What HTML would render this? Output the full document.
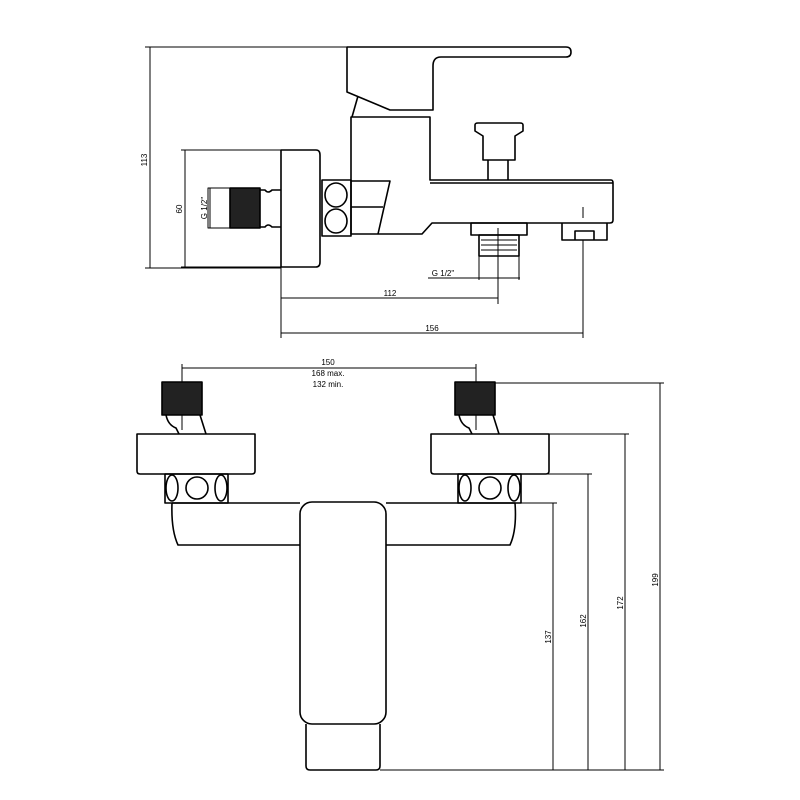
<!DOCTYPE html>
<html><head><meta charset="utf-8"><style>html,body{margin:0;padding:0;background:#fff}svg{display:block}</style></head><body>
<svg width="800" height="800" viewBox="0 0 800 800" xmlns="http://www.w3.org/2000/svg" font-family="Liberation Sans, sans-serif">
<g fill="none" stroke="#000" stroke-width="1.6" stroke-linejoin="round">
<!-- TOP VIEW -->
<!-- 113 dim -->
<line x1="150" y1="47" x2="150" y2="268" stroke-width="1"/>
<line x1="145" y1="47" x2="347" y2="47" stroke-width="1"/>
<line x1="145" y1="268" x2="281" y2="268" stroke-width="1"/>
<!-- lever -->
<path d="M347 47 H566 Q571 47 571 52 Q571 57 566 57 H441 Q433 57 433 66 V110 H390 L347 92 Z"/>
<path d="M358 96 L352 117"/>
<!-- body -->
<path d="M351 117 H430 V180 H611 Q613 180 613 183 V220 Q613 223 610 223 H432 L422 234 H351 Z"/>
<line x1="430" y1="183" x2="613" y2="183"/>
<path d="M351 181 H390 L378 234"/>
<line x1="351" y1="207" x2="383" y2="207"/>
<!-- nut ring -->
<rect x="322" y="180" width="29" height="56"/>
<ellipse cx="336" cy="195" rx="11" ry="12"/>
<ellipse cx="336" cy="221" rx="11" ry="12"/>
<!-- escutcheon -->
<path d="M281 150 H316 Q320 150 320 155 V262 Q320 267 316 267 H281 Z"/>
<!-- inlet -->
<rect x="208" y="188" width="22" height="40" stroke-width="1"/>
<rect x="230" y="188" width="30" height="40" fill="#222"/>
<path d="M260 190 H265 Q268 194 272 190 H281 M260 227 H265 Q268 223 272 227 H281"/>
<!-- 60 dim -->
<line x1="185" y1="150" x2="185" y2="267" stroke-width="1"/>
<line x1="181" y1="150" x2="281" y2="150" stroke-width="1"/>
<line x1="181" y1="267" x2="281" y2="267" stroke-width="1"/>
<line x1="210" y1="188" x2="210" y2="228" stroke-width="1"/>
<!-- knob -->
<path d="M475 125 Q475 123 478 123 H520 Q523 123 523 125 V131 L515 136 V160 H483 V136 L475 131 Z"/>
<line x1="488" y1="160" x2="488" y2="180"/>
<line x1="508" y1="160" x2="508" y2="180"/>
<!-- outlet -->
<rect x="471" y="223" width="56" height="12"/>
<rect x="479" y="235" width="40" height="21"/>
<line x1="481" y1="240" x2="517" y2="240" stroke-width="1"/>
<line x1="481" y1="245" x2="517" y2="245" stroke-width="1"/>
<line x1="481" y1="250" x2="517" y2="250" stroke-width="1"/>
<line x1="479" y1="256" x2="479" y2="280" stroke-width="1"/>
<line x1="519" y1="256" x2="519" y2="280" stroke-width="1"/>
<line x1="428" y1="278" x2="520" y2="278" stroke-width="1"/>
<!-- aerator -->
<path d="M562 223 V240 H607 V223"/>
<path d="M575 240 V231 H594 V240"/>
<line x1="583" y1="207" x2="583" y2="218" stroke-width="1"/>
<!-- 112 / 156 -->
<line x1="498" y1="228" x2="498" y2="304" stroke-width="1"/>
<line x1="583" y1="240" x2="583" y2="338" stroke-width="1"/>
<line x1="281" y1="267" x2="281" y2="338" stroke-width="1"/>
<line x1="281" y1="298" x2="498" y2="298" stroke-width="1"/>
<line x1="281" y1="333" x2="583" y2="333" stroke-width="1"/>

<!-- BOTTOM VIEW -->
<line x1="182" y1="368" x2="476" y2="368" stroke-width="1"/>
<line x1="182" y1="364" x2="182" y2="430" stroke-width="1"/>
<line x1="476" y1="364" x2="476" y2="430" stroke-width="1"/>
<rect x="162" y="382" width="40" height="33" fill="#222"/>
<rect x="455" y="382" width="40" height="33" fill="#222"/>
<path d="M166 415 Q168 425 176 428 L179 434 M200 415 L206 434"/>
<path d="M459 415 Q461 425 469 428 L472 434 M493 415 L499 434"/>
<path d="M137 434 H255 V471 Q255 474 252 474 H140 Q137 474 137 471 Z"/>
<path d="M431 434 H549 V471 Q549 474 546 474 H434 Q431 474 431 471 Z"/>
<rect x="165" y="474" width="63" height="29"/>
<ellipse cx="172" cy="488" rx="6" ry="13"/>
<circle cx="197" cy="488" r="11"/>
<ellipse cx="221" cy="488" rx="6" ry="13"/>
<rect x="458" y="474" width="63" height="29"/>
<ellipse cx="465" cy="488" rx="6" ry="13"/>
<circle cx="490" cy="488" r="11"/>
<ellipse cx="514" cy="488" rx="6" ry="13"/>
<path d="M172 503 H300 M386 503 H515 Q517 530 510 545 H386 M300 545 H178 Q171 530 172 503"/>
<rect x="300" y="502" width="86" height="222" rx="12"/>
<path d="M306 724 V766 Q306 770 310 770 H376 Q380 770 380 766 V724"/>
<!-- height dims -->
<line x1="495" y1="383" x2="664" y2="383" stroke-width="1"/>
<line x1="549" y1="434" x2="629" y2="434" stroke-width="1"/>
<line x1="521" y1="474" x2="592" y2="474" stroke-width="1"/>
<line x1="515" y1="503" x2="557" y2="503" stroke-width="1"/>
<line x1="380" y1="770" x2="664" y2="770" stroke-width="1"/>
<line x1="553" y1="503" x2="553" y2="770" stroke-width="1"/>
<line x1="588" y1="474" x2="588" y2="770" stroke-width="1"/>
<line x1="625" y1="434" x2="625" y2="770" stroke-width="1"/>
<line x1="660" y1="383" x2="660" y2="770" stroke-width="1"/>
</g>
<g font-size="8" fill="#000" text-anchor="middle">
<text transform="translate(147,160) rotate(-90)">113</text>
<text transform="translate(182,209) rotate(-90)">60</text>
<text transform="translate(207,208) rotate(-90)">G 1/2"</text>
<text x="443" y="276">G 1/2"</text>
<text x="390" y="296">112</text>
<text x="432" y="331">156</text>
<text x="328" y="365">150</text>
<text x="328" y="376">168 max.</text>
<text x="328" y="387">132 min.</text>
<text transform="translate(551,637) rotate(-90)">137</text>
<text transform="translate(586,621) rotate(-90)">162</text>
<text transform="translate(623,603) rotate(-90)">172</text>
<text transform="translate(658,580) rotate(-90)">199</text>
</g>
</svg>
</body></html>
